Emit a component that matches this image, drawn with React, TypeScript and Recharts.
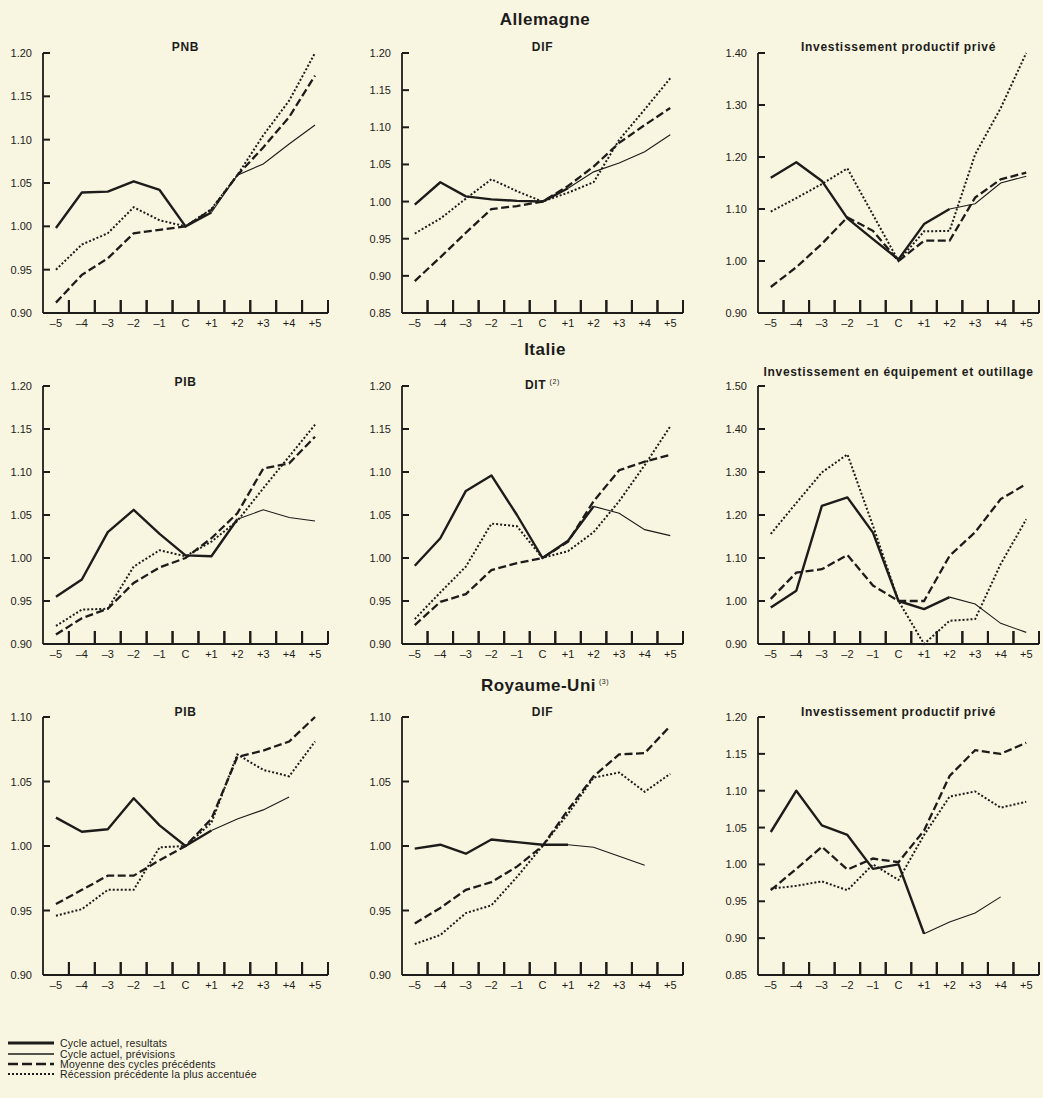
import React from 'react';
import { LineChart, Line, XAxis, YAxis } from 'recharts';

// Quarters around the cyclical trough C
const PERIODS = [-5, -4, -3, -2, -1, 0, 1, 2, 3, 4, 5];
const PERIOD_LABELS = ['–5', '–4', '–3', '–2', '–1', 'C', '+1', '+2', '+3', '+4', '+5'];
// Limits between consecutive quarters, marked on the time axis
const QUARTER_LIMITS = PERIODS.map((t) => t + 0.5);

// ---- Allemagne ----
const DE_PNB_ACTUEL = [0.998, 1.039, 1.040, 1.052, 1.042, 1.000, 1.016, 1.059, 1.072, 1.095, 1.117];
const DE_PNB_MOYENNE = [0.912, 0.944, 0.963, 0.992, 0.996, 1.000, 1.019, 1.059, 1.091, 1.126, 1.174];
const DE_PNB_RECESSION = [0.950, 0.979, 0.992, 1.022, 1.007, 1.000, 1.020, 1.059, 1.105, 1.145, 1.200];

const DE_DIF_ACTUEL = [0.996, 1.026, 1.007, 1.003, 1.001, 1.000, 1.018, 1.040, 1.052, 1.067, 1.090];
const DE_DIF_MOYENNE = [0.893, 0.925, 0.958, 0.990, 0.994, 1.000, 1.021, 1.047, 1.079, 1.103, 1.126];
const DE_DIF_RECESSION = [0.957, 0.977, 1.004, 1.030, 1.014, 1.000, 1.012, 1.026, 1.083, 1.124, 1.166];

const DE_INV_ACTUEL = [1.160, 1.190, 1.154, 1.082, 1.042, 1.003, 1.071, 1.100, 1.110, 1.150, 1.163];
const DE_INV_MOYENNE = [0.950, 0.988, 1.033, 1.084, 1.058, 1.000, 1.039, 1.039, 1.122, 1.157, 1.170];
const DE_INV_RECESSION = [1.095, 1.121, 1.148, 1.178, 1.089, 1.000, 1.057, 1.058, 1.205, 1.294, 1.400];

// ---- Italie ----
const IT_PIB_ACTUEL = [0.955, 0.975, 1.030, 1.056, 1.028, 1.003, 1.002, 1.045, 1.056, 1.047, 1.043];
const IT_PIB_MOYENNE = [0.911, 0.930, 0.941, 0.971, 0.989, 1.000, 1.023, 1.052, 1.104, 1.110, 1.141];
const IT_PIB_RECESSION = [0.921, 0.940, 0.941, 0.990, 1.009, 1.002, 1.019, 1.043, 1.081, 1.118, 1.155];

const IT_DIT_ACTUEL = [0.991, 1.023, 1.078, 1.096, 1.050, 1.000, 1.020, 1.060, 1.052, 1.033, 1.026];
const IT_DIT_MOYENNE = [0.922, 0.949, 0.958, 0.986, 0.994, 1.000, 1.019, 1.066, 1.102, 1.112, 1.120];
const IT_DIT_RECESSION = [0.929, 0.960, 0.990, 1.040, 1.037, 1.000, 1.008, 1.030, 1.066, 1.108, 1.153];

const IT_INV_ACTUEL = [0.985, 1.024, 1.221, 1.241, 1.159, 1.000, 0.981, 1.009, 0.993, 0.948, 0.927];
const IT_INV_MOYENNE = [1.005, 1.066, 1.074, 1.107, 1.036, 1.000, 1.000, 1.105, 1.160, 1.237, 1.272];
const IT_INV_RECESSION = [1.156, 1.228, 1.299, 1.341, 1.175, 1.000, 0.900, 0.954, 0.958, 1.086, 1.190];

// ---- Royaume-Uni ----
const UK_PIB_ACTUEL = [1.022, 1.011, 1.013, 1.037, 1.016, 1.000, 1.012, 1.021, 1.028, 1.038, null];
const UK_PIB_MOYENNE = [0.955, 0.966, 0.977, 0.977, 0.989, 1.000, 1.021, 1.069, 1.074, 1.081, 1.100];
const UK_PIB_RECESSION = [0.946, 0.951, 0.966, 0.966, 0.999, 1.000, 1.018, 1.071, 1.059, 1.054, 1.081];

const UK_DIF_ACTUEL = [0.998, 1.001, 0.994, 1.005, 1.003, 1.001, 1.001, 0.999, 0.992, 0.985, null];
const UK_DIF_MOYENNE = [0.940, 0.952, 0.966, 0.972, 0.984, 1.000, 1.028, 1.054, 1.071, 1.072, 1.093];
const UK_DIF_RECESSION = [0.924, 0.931, 0.948, 0.954, 0.976, 1.000, 1.025, 1.053, 1.057, 1.042, 1.056];

const UK_INV_ACTUEL = [1.044, 1.100, 1.053, 1.040, 0.994, 1.000, 0.906, 0.922, 0.934, 0.956, null];
const UK_INV_MOYENNE = [0.965, 0.994, 1.024, 0.993, 1.008, 1.003, 1.046, 1.120, 1.155, 1.150, 1.165];
const UK_INV_RECESSION = [0.967, 0.971, 0.977, 0.965, 1.000, 0.979, 1.040, 1.092, 1.099, 1.077, 1.085];

// Y tick sets
const TICKS_090_120 = [0.9, 0.95, 1.0, 1.05, 1.1, 1.15, 1.2];
const TICKS_085_120 = [0.85, 0.9, 0.95, 1.0, 1.05, 1.1, 1.15, 1.2];
const TICKS_090_140 = [0.9, 1.0, 1.1, 1.2, 1.3, 1.4];
const TICKS_090_150 = [0.9, 1.0, 1.1, 1.2, 1.3, 1.4, 1.5];
const TICKS_090_110 = [0.9, 0.95, 1.0, 1.05, 1.1];

const COUNTRIES = [
  { name: 'Allemagne', note: '', y: 20 },
  { name: 'Italie', note: '', y: 350 },
  { name: 'Royaume-Uni', note: '(3)', y: 682 },
];

const LEGEND_ITEMS = [
  { label: 'Cycle actuel, resultats', kind: 'thick' },
  { label: 'Cycle actuel, prévisions', kind: 'thin' },
  { label: 'Moyenne des cycles précédents', kind: 'dash' },
  { label: 'Récession précédente la plus accentuée', kind: 'dot' },
];

type PanelSpec = {
  title: string;
  note?: string;
  titleY: number;
  row: number;
  col: number;
  domain: [number, number];
  ticks: number[];
  actuel: (number | null)[];
  moyenne: number[];
  recession: number[];
  cut: number; // last index of published results
};

const PANELS: PanelSpec[] = [
  { title: 'PNB', titleY: 47, row: 0, col: 0, domain: [0.9, 1.2], ticks: TICKS_090_120, actuel: DE_PNB_ACTUEL, moyenne: DE_PNB_MOYENNE, recession: DE_PNB_RECESSION, cut: 6 },
  { title: 'DIF', titleY: 47, row: 0, col: 1, domain: [0.85, 1.2], ticks: TICKS_085_120, actuel: DE_DIF_ACTUEL, moyenne: DE_DIF_MOYENNE, recession: DE_DIF_RECESSION, cut: 6 },
  { title: 'Investissement productif privé', titleY: 47, row: 0, col: 2, domain: [0.9, 1.4], ticks: TICKS_090_140, actuel: DE_INV_ACTUEL, moyenne: DE_INV_MOYENNE, recession: DE_INV_RECESSION, cut: 7 },
  { title: 'PIB', titleY: 382, row: 1, col: 0, domain: [0.9, 1.2], ticks: TICKS_090_120, actuel: IT_PIB_ACTUEL, moyenne: IT_PIB_MOYENNE, recession: IT_PIB_RECESSION, cut: 7 },
  { title: 'DIT', note: '(2)', titleY: 382, row: 1, col: 1, domain: [0.9, 1.2], ticks: TICKS_090_120, actuel: IT_DIT_ACTUEL, moyenne: IT_DIT_MOYENNE, recession: IT_DIT_RECESSION, cut: 7 },
  { title: 'Investissement en équipement et outillage', titleY: 372, row: 1, col: 2, domain: [0.9, 1.5], ticks: TICKS_090_150, actuel: IT_INV_ACTUEL, moyenne: IT_INV_MOYENNE, recession: IT_INV_RECESSION, cut: 7 },
  { title: 'PIB', titleY: 712, row: 2, col: 0, domain: [0.9, 1.1], ticks: TICKS_090_110, actuel: UK_PIB_ACTUEL, moyenne: UK_PIB_MOYENNE, recession: UK_PIB_RECESSION, cut: 6 },
  { title: 'DIF', titleY: 712, row: 2, col: 1, domain: [0.9, 1.1], ticks: TICKS_090_110, actuel: UK_DIF_ACTUEL, moyenne: UK_DIF_MOYENNE, recession: UK_DIF_RECESSION, cut: 6 },
  { title: 'Investissement productif privé', titleY: 712, row: 2, col: 2, domain: [0.85, 1.2], ticks: TICKS_085_120, actuel: UK_INV_ACTUEL, moyenne: UK_INV_MOYENNE, recession: UK_INV_RECESSION, cut: 6 },
];

// Layout
const PAPER = '#f8f5e1';
const INK = '#1d1c1a';
const FONT = "'Liberation Sans', Arial, Helvetica, sans-serif";
const COLS = [
  { axis: 43, right: 328 },
  { axis: 402, right: 683 },
  { axis: 758, right: 1039 },
];
const ROWS = [
  { top: 53, bottom: 313 },
  { top: 386, bottom: 644 },
  { top: 717, bottom: 975 },
];
const Y_W = 40;
const M_TOP = 10;
const M_RIGHT = 4;
const X_H = 24;
const X_MIN = -5.5;
const X_MAX = 5.5;
const LIMIT_TICK = 13; // upward marks between quarters
const VALUE_TICK = 7; // inward marks on the value axis

// Time-axis tick: the tick position is the limit after a quarter, raised by
// LIMIT_TICK above the axis; the mark runs down to the axis and the quarter's
// label is drawn half a step to the left, under the axis.
function XTick(props: any) {
  const { x, y, payload, half } = props;
  const idx = QUARTER_LIMITS.indexOf(payload.value);
  return (
    <g>
      <line x1={x} x2={x} y1={y} y2={y + LIMIT_TICK} stroke={INK} strokeWidth={2} />
      <text x={x - half} y={y + LIMIT_TICK + 14} textAnchor="middle" fontSize={11} fontFamily={FONT} fill={INK}>
        {PERIOD_LABELS[idx]}
      </text>
    </g>
  );
}

function YTick(props: any) {
  const { x, y, payload } = props;
  return (
    <text x={x - VALUE_TICK - 11} y={y + 4} textAnchor="end" fontSize={11} fontFamily={FONT} fill={INK}>
      {Number(payload.value).toFixed(2)}
    </text>
  );
}

function Panel({ p }: { p: PanelSpec }) {
  const c = COLS[p.col];
  const r = ROWS[p.row];
  const plotW = c.right - c.axis;
  const plotH = r.bottom - r.top;
  const width = plotW + Y_W + M_RIGHT;
  const height = plotH + M_TOP + X_H;
  const half = plotW / (X_MAX - X_MIN) / 2;
  const data = PERIODS.map((t, i) => ({
    t,
    res: i <= p.cut ? p.actuel[i] : null,
    prev: i >= p.cut ? p.actuel[i] : null,
    moy: p.moyenne[i],
    rec: p.recession[i],
  }));
  return (
    <div style={{ position: 'absolute', left: c.axis - Y_W, top: r.top - M_TOP }}>
      <LineChart width={width} height={height} data={data} margin={{ top: M_TOP, right: M_RIGHT, bottom: 0, left: 0 }}>
        <XAxis
          type="number"
          dataKey="t"
          domain={[X_MIN, X_MAX]}
          ticks={QUARTER_LIMITS}
          interval={0}
          height={X_H}
          tickSize={-LIMIT_TICK}
          tickMargin={0}
          tickLine={{ stroke: INK, strokeWidth: 2 }}
          axisLine={{ stroke: INK, strokeWidth: 1.8 }}
          tick={(tp: any) => <XTick {...tp} half={half} />}
        />
        <YAxis
          type="number"
          domain={p.domain}
          ticks={p.ticks}
          interval={0}
          width={Y_W}
          tickSize={-VALUE_TICK}
          tickMargin={0}
          tickLine={{ stroke: INK, strokeWidth: 2 }}
          axisLine={{ stroke: INK, strokeWidth: 1.8 }}
          tick={(tp: any) => <YTick {...tp} />}
        />
        <Line dataKey="rec" type="linear" stroke={INK} strokeWidth={2} strokeDasharray="2 2" dot={false} activeDot={false} isAnimationActive={false} />
        <Line dataKey="moy" type="linear" stroke={INK} strokeWidth={2.3} strokeDasharray="8 3.5" dot={false} activeDot={false} isAnimationActive={false} />
        <Line dataKey="prev" type="linear" stroke={INK} strokeWidth={1.1} dot={false} activeDot={false} isAnimationActive={false} />
        <Line dataKey="res" type="linear" stroke={INK} strokeWidth={2.4} strokeLinejoin="round" dot={false} activeDot={false} isAnimationActive={false} />
      </LineChart>
      <div
        style={{
          position: 'absolute',
          left: Y_W,
          width: plotW,
          top: p.titleY - 7 - (r.top - M_TOP),
          textAlign: 'center',
          fontFamily: FONT,
          fontWeight: 700,
          fontSize: 12,
          letterSpacing: 0.7,
          lineHeight: '14px',
          color: INK,
          whiteSpace: 'nowrap',
        }}
      >
        {p.title}
        {p.note ? <span style={{ fontSize: 7, fontWeight: 400, verticalAlign: 'super', marginLeft: 3 }}>{p.note}</span> : null}
      </div>
    </div>
  );
}

function LegendSample({ kind }: { kind: string }) {
  const common = { x1: 0, x2: 46, y1: 4, y2: 4, stroke: INK };
  let line;
  if (kind === 'thick') line = <line {...common} strokeWidth={3} />;
  else if (kind === 'thin') line = <line {...common} strokeWidth={1.3} />;
  else if (kind === 'dash') line = <line {...common} strokeWidth={2.6} strokeDasharray="10 4" />;
  else line = <line {...common} strokeWidth={2} strokeDasharray="2 2" />;
  return (
    <svg width={48} height={8} style={{ display: 'block' }}>
      {line}
    </svg>
  );
}

export default function App() {
  return (
    <div style={{ position: 'absolute', left: 0, top: 0, width: 1043, height: 1098, background: PAPER }}>
      {COUNTRIES.map((c) => (
        <div
          key={c.name}
          style={{
            position: 'absolute',
            left: 395,
            width: 300,
            top: c.y - 10,
            textAlign: 'center',
            fontFamily: FONT,
            fontWeight: 700,
            fontSize: 17,
            lineHeight: '20px',
            letterSpacing: 0.5,
            color: INK,
          }}
        >
          {c.name}
          {c.note ? <span style={{ fontSize: 7, fontWeight: 400, verticalAlign: 'super', marginLeft: 3 }}>{c.note}</span> : null}
        </div>
      ))}
      {PANELS.map((p, i) => (
        <Panel key={i} p={p} />
      ))}
      <div style={{ position: 'absolute', left: 8, top: 1038 }}>
        {LEGEND_ITEMS.map((it) => (
          <div key={it.label} style={{ display: 'flex', alignItems: 'center', height: 10.4 }}>
            <LegendSample kind={it.kind} />
            <span style={{ marginLeft: 4, fontFamily: FONT, fontSize: 10.5, color: INK, lineHeight: '10px', letterSpacing: 0.2 }}>{it.label}</span>
          </div>
        ))}
      </div>
    </div>
  );
}
